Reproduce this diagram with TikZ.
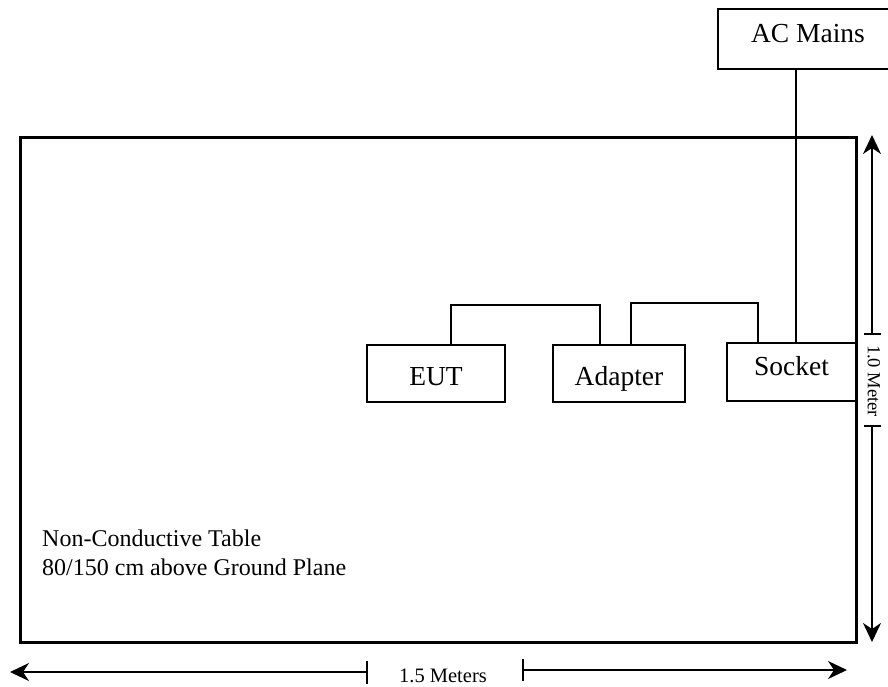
\documentclass[tikz,border=0pt]{standalone}
\usepackage{fontspec}
\setmainfont{Liberation Serif}
\usetikzlibrary{arrows.meta}
\begin{document}
\begin{tikzpicture}[x=1pt,y=-1pt,
  box/.style={draw,line width=1.4pt,rectangle,inner sep=0pt,text height=23pt,text depth=0pt,font=\fontsize{27.5}{32}\selectfont},
  wire/.style={line width=1.4pt},
  dimline/.style={line width=1.3pt,-{Stealth[length=19pt,width=18pt,inset=6pt]}},
  tick/.style={line width=1.3pt},
  dimtext/.style={inner sep=0pt,font=\fontsize{20.5}{24}\selectfont}]
\useasboundingbox (0,0) rectangle (888,686);
% table
\draw[line width=3pt] (20,137) rectangle (856,642);
% boxes
\node[box,minimum width=138pt,minimum height=57pt] (EUT) at (436,373.5) {EUT};
\node[box,minimum width=132pt,minimum height=57pt] (Adapter) at (619,373.5) {Adapter};
\node[box,minimum width=129pt,minimum height=58pt] (Socket) at (791.5,372) {\raisebox{8.5pt}{Socket}};
\node[box,minimum width=180pt,minimum height=60pt] (AC) at (808,39) {\raisebox{8.5pt}{AC Mains}};
% wires
\coordinate (e1) at (451,305);
\coordinate (a1) at (600,305);
\coordinate (a2) at (631,303);
\coordinate (s1) at (758,303);
\coordinate (m) at (796,0);
\draw[wire] (EUT.north -| e1) -- (e1) -- (a1) -- (Adapter.north -| a1);
\draw[wire] (Adapter.north -| a2) -- (a2) -- (s1) -- (Socket.north -| s1);
\draw[wire] (AC.south -| m) -- (Socket.north -| m);
% table label
\node[anchor=base west,inner sep=0pt,font=\fontsize{24}{29}\selectfont] (t1) at (42,546) {Non-Conductive Table};
\node[anchor=base west,inner sep=0pt,font=\fontsize{24}{29}\selectfont] (t2) at (42,575) {80/150 cm above Ground Plane};
% right dimension
\coordinate (rtop) at (872,135);
\coordinate (rt1) at (872,334);
\coordinate (rt2) at (872,426);
\coordinate (rbot) at (872,642);
\draw[dimline] (rt1) -- (rtop);
\draw[dimline] (rt2) -- (rbot);
\draw[tick] ([xshift=-8pt]rt1) -- ([xshift=9pt]rt1);
\draw[tick] ([xshift=-8pt]rt2) -- ([xshift=9pt]rt2);
\node[inner sep=0pt,font=\fontsize{18.5}{22}\selectfont,rotate=-90] (rlab) at (874,381) {1.0 Meter};
% bottom dimension
\coordinate (bl) at (10,672);
\coordinate (bt1) at (367,672);
\coordinate (bt2) at (523,670);
\coordinate (br) at (847,670);
\draw[dimline] (bt1) -- (bl);
\draw[dimline] (bt2) -- (br);
\draw[tick] (367,661) -- (367,684);
\draw[tick] (523,659) -- (523,681);
\node[dimtext,anchor=base] (blab) at (443,682) {1.5 Meters};
\end{tikzpicture}
\end{document}
